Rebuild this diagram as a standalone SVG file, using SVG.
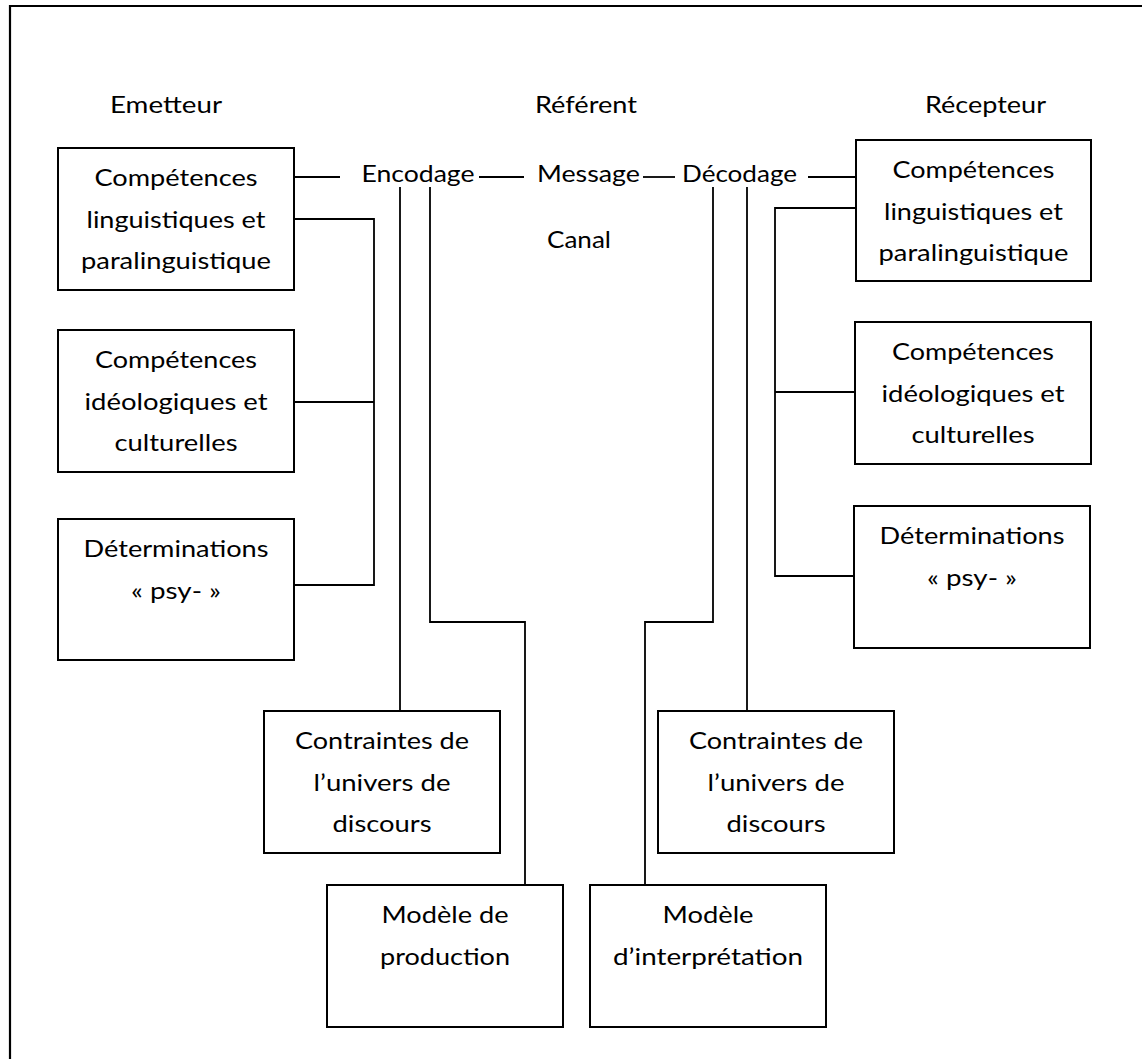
<svg xmlns="http://www.w3.org/2000/svg" width="1142" height="1059" viewBox="0 0 1142 1059">
<style>
text{font-family:Lato,"Open Sans","Liberation Sans",sans-serif;font-size:23px;fill:#000;text-anchor:middle}
.box{fill:#fff;stroke:#000;stroke-width:2}
.ln{fill:none;stroke:#000;stroke-width:1.8}
</style>
<rect width="1142" height="1059" fill="#fff"/>
<path d="M10,1060 V6 H1143" fill="none" stroke="#000" stroke-width="2.2"/>
<g id="connectors" class="ln">
<path class="ln" d="M294,177 H340"/>
<path class="ln" d="M479,177 H524"/>
<path class="ln" d="M643,177 H675"/>
<path class="ln" d="M808,177 H856"/>
<path class="ln" d="M294,219 H374 V585 H294"/>
<path class="ln" d="M294,402 H374"/>
<path class="ln" d="M400,187 V711"/>
<path class="ln" d="M430,187 V622 H525 V885"/>
<path class="ln" d="M713,187 V622 H645 V885"/>
<path class="ln" d="M747,187 V711"/>
<path class="ln" d="M856,208 H775 V576 H854"/>
<path class="ln" d="M775,392 H855"/>
</g>
<g id="labels">
<text x="166" y="113" textLength="112" lengthAdjust="spacingAndGlyphs">Emetteur</text>
<text x="586" y="113" textLength="102" lengthAdjust="spacingAndGlyphs">Référent</text>
<text x="985.5" y="113" textLength="121" lengthAdjust="spacingAndGlyphs">Récepteur</text>
<text x="418" y="182" textLength="113" lengthAdjust="spacingAndGlyphs">Encodage</text>
<text x="588.5" y="182" textLength="103" lengthAdjust="spacingAndGlyphs">Message</text>
<text x="739.5" y="182" textLength="115" lengthAdjust="spacingAndGlyphs">Décodage</text>
<text x="579" y="248" textLength="64" lengthAdjust="spacingAndGlyphs">Canal</text>
</g>
<g id="e-ling">
<rect class="box" x="58" y="148" width="236" height="142"/>
<text x="176" y="186" textLength="163" lengthAdjust="spacingAndGlyphs">Compétences</text>
<text x="176" y="227.5" textLength="179" lengthAdjust="spacingAndGlyphs">linguistiques et</text>
<text x="176" y="269" textLength="190" lengthAdjust="spacingAndGlyphs">paralinguistique</text>
</g>
<g id="e-ideo">
<rect class="box" x="58" y="330" width="236" height="142"/>
<text x="176" y="368" textLength="162" lengthAdjust="spacingAndGlyphs">Compétences</text>
<text x="176" y="409.5" textLength="183" lengthAdjust="spacingAndGlyphs">idéologiques et</text>
<text x="176" y="451" textLength="123" lengthAdjust="spacingAndGlyphs">culturelles</text>
</g>
<g id="e-psy">
<rect class="box" x="58" y="519" width="236" height="141"/>
<text x="176" y="557" textLength="185" lengthAdjust="spacingAndGlyphs">Déterminations</text>
<text x="176" y="598.5" textLength="90" lengthAdjust="spacingAndGlyphs">« psy- »</text>
</g>
<g id="r-ling">
<rect class="box" x="856" y="140" width="235" height="141"/>
<text x="973.5" y="178" textLength="162" lengthAdjust="spacingAndGlyphs">Compétences</text>
<text x="973.5" y="219.5" textLength="179" lengthAdjust="spacingAndGlyphs">linguistiques et</text>
<text x="973.5" y="261" textLength="190" lengthAdjust="spacingAndGlyphs">paralinguistique</text>
</g>
<g id="r-ideo">
<rect class="box" x="855" y="322" width="236" height="142"/>
<text x="973" y="360" textLength="162" lengthAdjust="spacingAndGlyphs">Compétences</text>
<text x="973" y="401.5" textLength="183" lengthAdjust="spacingAndGlyphs">idéologiques et</text>
<text x="973" y="443" textLength="123" lengthAdjust="spacingAndGlyphs">culturelles</text>
</g>
<g id="r-psy">
<rect class="box" x="854" y="506" width="236" height="142"/>
<text x="972" y="544" textLength="185" lengthAdjust="spacingAndGlyphs">Déterminations</text>
<text x="972" y="585.5" textLength="90" lengthAdjust="spacingAndGlyphs">« psy- »</text>
</g>
<g id="e-contraintes">
<rect class="box" x="264" y="711" width="236" height="142"/>
<text x="382" y="749" textLength="174" lengthAdjust="spacingAndGlyphs">Contraintes de</text>
<text x="382" y="790.5" textLength="137" lengthAdjust="spacingAndGlyphs">l’univers de</text>
<text x="382" y="832" textLength="99" lengthAdjust="spacingAndGlyphs">discours</text>
</g>
<g id="r-contraintes">
<rect class="box" x="658" y="711" width="236" height="142"/>
<text x="776" y="749" textLength="174" lengthAdjust="spacingAndGlyphs">Contraintes de</text>
<text x="776" y="790.5" textLength="137" lengthAdjust="spacingAndGlyphs">l’univers de</text>
<text x="776" y="832" textLength="99" lengthAdjust="spacingAndGlyphs">discours</text>
</g>
<g id="production">
<rect class="box" x="327" y="885" width="236" height="142"/>
<text x="445" y="923" textLength="127" lengthAdjust="spacingAndGlyphs">Modèle de</text>
<text x="445" y="964.5" textLength="130" lengthAdjust="spacingAndGlyphs">production</text>
</g>
<g id="interpretation">
<rect class="box" x="590" y="885" width="236" height="142"/>
<text x="708" y="923" textLength="91" lengthAdjust="spacingAndGlyphs">Modèle</text>
<text x="708" y="964.5" textLength="190" lengthAdjust="spacingAndGlyphs">d’interprétation</text>
</g>
</svg>
